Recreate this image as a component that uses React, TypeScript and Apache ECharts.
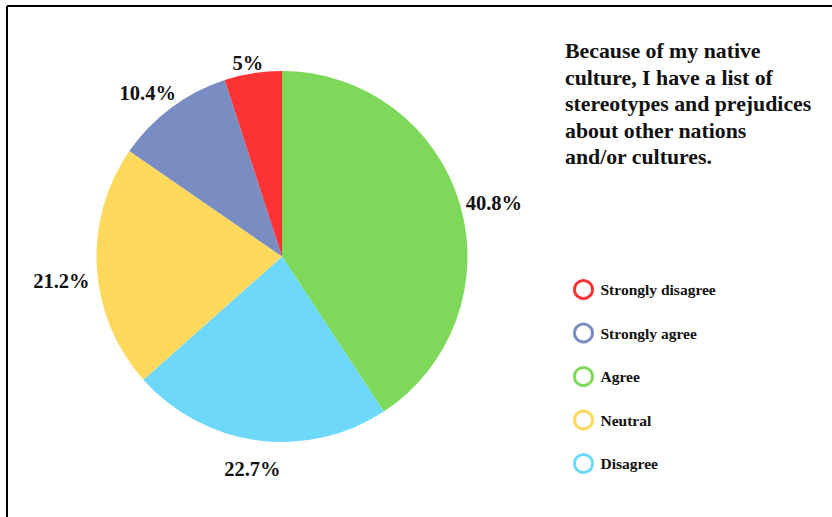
import React, { useEffect, useRef } from "react";
import * as echarts from "echarts";

const categories = ["Agree", "Disagree", "Neutral", "Strongly agree", "Strongly disagree"];
const values = [40.8, 22.7, 21.2, 10.4, 5];
const colors = ["#7ed95b", "#6dd8fa", "#fed95c", "#7a8dc3", "#fc3334"];
const legendOrder = ["Strongly disagree", "Strongly agree", "Agree", "Neutral", "Disagree"];
const labelOffsets = [[3, 9], [-1, -4], [-3, 11], [-4, 11], [0, 22]];
const titleText = "Because of my native\nculture, I have a list of\nstereotypes and prejudices\nabout other nations\nand/or cultures.";

const SERIF = "'Liberation Serif', 'Times New Roman', serif";

export default function App() {
  const ref = useRef<HTMLDivElement>(null);
  useEffect(() => {
    document.body.style.margin = "0";
    const chart = echarts.init(ref.current!, null, { renderer: "svg" });
    const mainData = categories.map((c, i) => ({
      name: c,
      value: values[i],
      itemStyle: { color: colors[i] },
    }));
    const labelData = categories.map((c, i) => ({
      name: c,
      value: values[i],
      label: { offset: labelOffsets[i] },
    }));
    const legendData = legendOrder.map((n) => ({
      name: n,
      itemStyle: { color: "#ffffff", borderColor: colors[categories.indexOf(n)], borderWidth: 3 },
    }));
    chart.setOption({
      animation: false,
      backgroundColor: "#ffffff",
      title: {
        text: titleText,
        left: 565,
        top: 38,
        padding: 0,
        textStyle: {
          fontFamily: SERIF,
          fontWeight: "bold",
          fontSize: 21.8,
          lineHeight: 26.5,
          color: "#111",
        },
      },
      legend: {
        orient: "vertical",
        left: 568,
        top: 274,
        itemWidth: 18,
        itemHeight: 18,
        itemGap: 22.5,
        icon: "circle",
        data: legendData,
        textStyle: {
          fontFamily: SERIF,
          fontWeight: "bold",
          fontSize: 15.5,
          color: "#111",
          padding: [0, 0, 0, 3],
        },
        selectedMode: false,
      },
      graphic: [
        { type: "line", shape: { x1: 7, y1: 6, x2: 832, y2: 6 }, style: { stroke: "#000", lineWidth: 2 } },
        { type: "line", shape: { x1: 7, y1: 6, x2: 7, y2: 517 }, style: { stroke: "#000", lineWidth: 2 } },
      ],
      series: [
        {
          type: "pie",
          center: [282, 256.5],
          radius: 185.5,
          startAngle: 90,
          clockwise: true,
          label: { show: false },
          labelLine: { show: false },
          silent: true,
          data: mainData,
        },
        {
          type: "pie",
          center: [282, 256.5],
          radius: [205, 225],
          startAngle: 90,
          clockwise: true,
          silent: true,
          legendHoverLink: false,
          itemStyle: { color: "rgba(0,0,0,0)" },
          labelLine: { show: false },
          label: {
            show: true,
            position: "inside",
            rotate: 0,
            formatter: (p: any) => `${p.value}%`,
            fontFamily: SERIF,
            fontWeight: "bold",
            fontSize: 20.5,
            color: "#111",
          },
          data: labelData,
        },
      ],
    });
    return () => chart.dispose();
  }, []);
  return <div ref={ref} style={{ width: 832, height: 517 }} />;
}
